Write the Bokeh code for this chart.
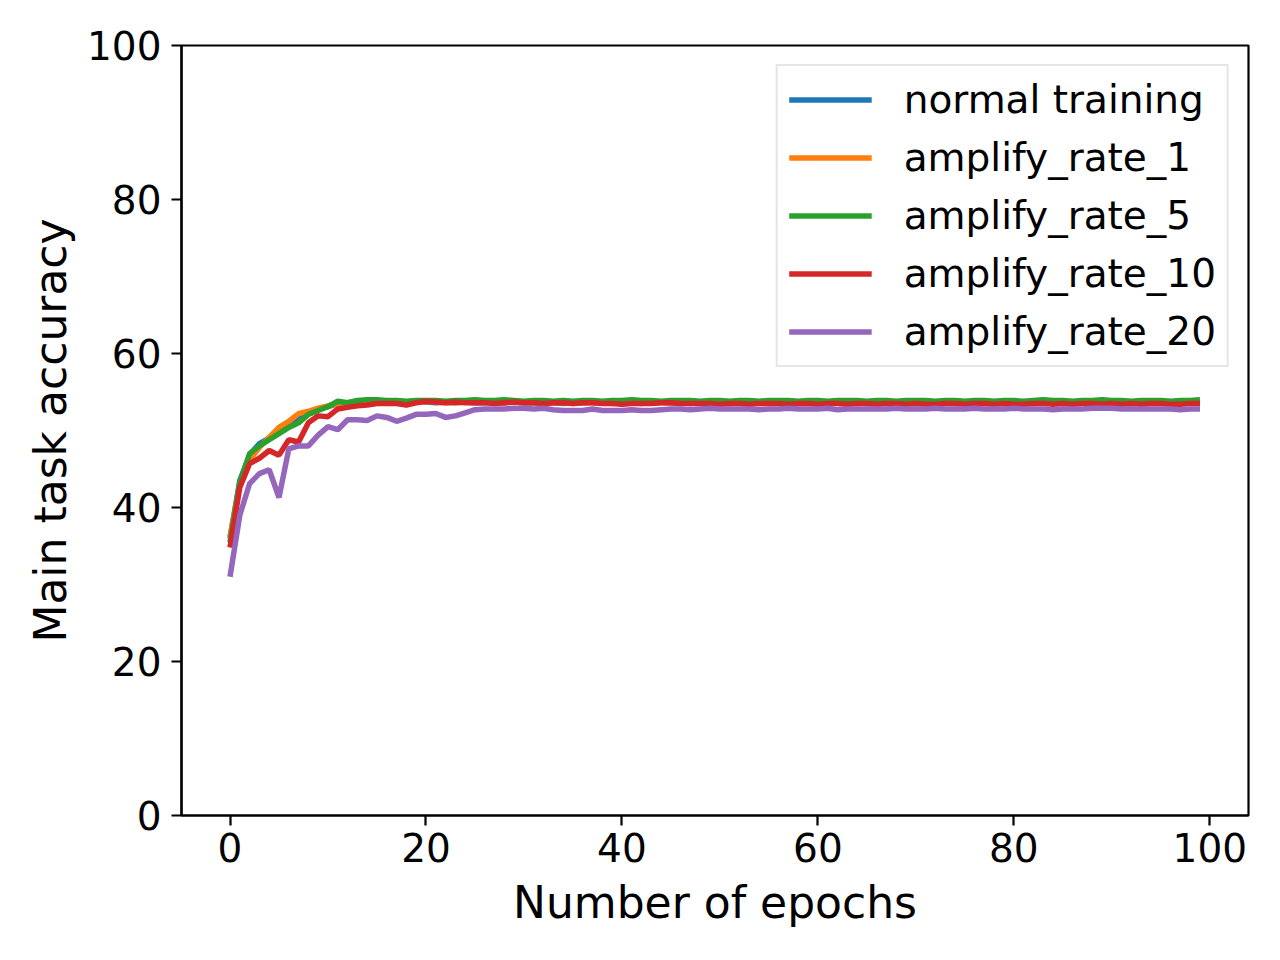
import numpy as np
from bokeh.plotting import figure
from bokeh.models import Range1d, Legend, LegendItem, FixedTicker
from bokeh.embed import file_html
from bokeh.resources import INLINE

normal_training = [36.0, 43.5, 46.8, 48.3, 49.0, 50.0, 50.8, 51.8, 52.4, 52.8,
 53.1, 53.5, 53.6, 53.7, 53.8, 53.8, 53.7, 53.6, 53.7, 53.8,
 53.7, 53.6, 53.7, 53.6, 53.7, 53.6, 53.6, 53.7, 53.6, 53.7,
 53.6, 53.6, 53.7, 53.6, 53.5, 53.6, 53.6, 53.7, 53.6, 53.6,
 53.5, 53.6, 53.6, 53.6, 53.7, 53.6, 53.6, 53.5, 53.6, 53.6,
 53.6, 53.5, 53.6, 53.6, 53.5, 53.6, 53.6, 53.6, 53.5, 53.6,
 53.6, 53.5, 53.6, 53.6, 53.6, 53.5, 53.6, 53.6, 53.5, 53.6,
 53.6, 53.6, 53.5, 53.6, 53.6, 53.5, 53.6, 53.6, 53.6, 53.5,
 53.6, 53.6, 53.5, 53.6, 53.6, 53.6, 53.5, 53.6, 53.6, 53.5,
 53.6, 53.6, 53.5, 53.6, 53.6, 53.6, 53.5, 53.6, 53.6, 53.6]

amplify_rate_1 = [36.2, 43.0, 46.2, 47.8, 49.1, 50.4, 51.2, 52.2, 52.5, 52.9,
 53.2, 53.5, 53.6, 53.7, 53.7, 53.8, 53.7, 53.7, 53.6, 53.7,
 53.8, 53.7, 53.6, 53.6, 53.7, 53.6, 53.7, 53.6, 53.6, 53.7,
 53.6, 53.6, 53.5, 53.6, 53.6, 53.5, 53.6, 53.6, 53.6, 53.5,
 53.6, 53.6, 53.5, 53.6, 53.6, 53.6, 53.5, 53.6, 53.6, 53.6,
 53.5, 53.6, 53.6, 53.5, 53.6, 53.6, 53.6, 53.5, 53.6, 53.6,
 53.5, 53.6, 53.6, 53.6, 53.5, 53.6, 53.6, 53.5, 53.6, 53.6,
 53.6, 53.5, 53.6, 53.6, 53.5, 53.6, 53.6, 53.6, 53.5, 53.6,
 53.6, 53.5, 53.6, 53.6, 53.6, 53.5, 53.6, 53.6, 53.5, 53.6,
 53.6, 53.6, 53.5, 53.6, 53.6, 53.5, 53.6, 53.6, 53.6, 53.6]

amplify_rate_5 = [35.5, 43.2, 47.0, 48.0, 48.8, 49.6, 50.4, 51.0, 52.1, 52.6,
 53.1, 53.8, 53.6, 53.9, 54.0, 54.0, 53.9, 53.9, 53.8, 53.9,
 53.9, 53.9, 53.8, 53.9, 53.9, 54.0, 53.9, 53.9, 54.0, 53.9,
 53.8, 53.9, 53.9, 53.8, 53.9, 53.8, 53.9, 53.9, 53.8, 53.9,
 53.9, 54.0, 53.9, 53.9, 53.8, 53.9, 53.9, 53.9, 53.8, 53.9,
 53.9, 53.8, 53.9, 53.9, 53.8, 53.9, 53.9, 53.9, 53.8, 53.9,
 53.9, 53.8, 53.9, 53.9, 53.9, 53.8, 53.9, 53.9, 53.8, 53.9,
 53.9, 53.9, 53.8, 53.9, 53.9, 53.8, 53.9, 53.9, 53.8, 53.9,
 53.9, 53.8, 53.9, 54.0, 53.9, 53.9, 53.8, 53.9, 53.9, 54.0,
 53.9, 53.9, 53.8, 53.9, 53.9, 53.9, 53.8, 53.9, 53.9, 54.0]

amplify_rate_10 = [34.8, 42.6, 45.7, 46.4, 47.4, 46.8, 48.8, 48.5, 51.0, 51.9,
 51.8, 52.8, 53.0, 53.2, 53.3, 53.5, 53.5, 53.5, 53.3, 53.6,
 53.8, 53.7, 53.6, 53.7, 53.6, 53.6, 53.6, 53.5, 53.6, 53.7,
 53.6, 53.6, 53.5, 53.6, 53.6, 53.5, 53.6, 53.6, 53.5, 53.5,
 53.4, 53.5, 53.5, 53.5, 53.6, 53.6, 53.5, 53.5, 53.5, 53.5,
 53.4, 53.5, 53.5, 53.4, 53.5, 53.5, 53.5, 53.4, 53.5, 53.5,
 53.4, 53.5, 53.5, 53.4, 53.5, 53.5, 53.4, 53.5, 53.5, 53.4,
 53.5, 53.4, 53.4, 53.5, 53.5, 53.4, 53.5, 53.5, 53.4, 53.5,
 53.4, 53.4, 53.5, 53.5, 53.4, 53.5, 53.4, 53.5, 53.5, 53.4,
 53.5, 53.4, 53.5, 53.4, 53.5, 53.5, 53.4, 53.4, 53.5, 53.5]

amplify_rate_20 = [31.0, 39.0, 43.1, 44.4, 44.9, 41.3, 47.6, 48.0, 48.0, 49.4,
 50.5, 50.1, 51.4, 51.4, 51.3, 51.9, 51.7, 51.2, 51.6, 52.1,
 52.1, 52.2, 51.7, 51.9, 52.3, 52.7, 52.8, 52.8, 52.8, 52.9,
 52.9, 52.8, 52.9, 52.7, 52.6, 52.6, 52.6, 52.8, 52.6, 52.6,
 52.6, 52.7, 52.6, 52.6, 52.7, 52.8, 52.8, 52.7, 52.8, 52.9,
 52.8, 52.8, 52.8, 52.8, 52.7, 52.8, 52.8, 52.9, 52.8, 52.8,
 52.8, 52.9, 52.7, 52.8, 52.8, 52.8, 52.8, 52.8, 52.9, 52.8,
 52.8, 52.8, 52.9, 52.8, 52.8, 52.8, 52.9, 52.8, 52.8, 52.8,
 52.9, 52.8, 52.8, 52.8, 52.7, 52.8, 52.8, 52.8, 52.9, 52.9,
 52.9, 52.8, 52.8, 52.8, 52.8, 52.8, 52.8, 52.7, 52.8, 52.8]

series_names = ["normal training", "amplify_rate_1", "amplify_rate_5",
                "amplify_rate_10", "amplify_rate_20"]
series_values = [normal_training, amplify_rate_1, amplify_rate_5,
                 amplify_rate_10, amplify_rate_20]
colors = ["#1f77b4", "#ff7f0e", "#2ca02c", "#d62728", "#9467bd"]
x_ticks = [0, 20, 40, 60, 80, 100]
y_ticks = [0, 20, 40, 60, 80, 100]

FONT = "DejaVu Sans"

p = figure(width=1264, height=944, output_backend="svg", toolbar_location=None,
           x_range=Range1d(-4.95, 103.95), y_range=Range1d(0, 100),
           min_border_left=181, min_border_right=16,
           min_border_top=45, min_border_bottom=129)
p.grid.visible = False
p.background_fill_color = "white"
p.border_fill_color = "white"
p.outline_line_color = "black"
p.outline_line_width = 2.2

for ax in (p.xaxis[0], p.yaxis[0]):
    ax.axis_line_width = 2.2
    ax.axis_line_color = "black"
    ax.major_tick_line_width = 2.2
    ax.major_tick_in = 0
    ax.major_tick_out = 10
    ax.minor_tick_line_color = None
    ax.major_label_text_font = FONT
    ax.major_label_text_font_size = "39px"
    ax.major_label_text_color = "black"
    ax.axis_label_text_font = FONT
    ax.axis_label_text_font_size = "44px"
    ax.axis_label_text_font_style = "normal"
    ax.axis_label_text_color = "black"

p.xaxis.major_label_standoff = 7
p.yaxis.major_label_standoff = 10
p.xaxis.axis_label_standoff = 12
p.yaxis.axis_label_standoff = 8
p.xaxis.ticker = FixedTicker(ticks=x_ticks)
p.yaxis.ticker = FixedTicker(ticks=y_ticks)
p.xaxis.axis_label = "Number of epochs"
p.yaxis.axis_label = "Main task accuracy"

items = []
for name, vals, c in zip(series_names, series_values, colors):
    x = np.arange(len(vals))
    r = p.line(x, vals, line_color=c, line_width=5.5)
    items.append(LegendItem(label=name, renderers=[r]))

legend = Legend(items=items, location="top_right")
legend.label_text_font = FONT
legend.label_text_font_size = "39px"
legend.label_text_color = "black"
legend.glyph_width = 83
legend.glyph_height = 39
legend.label_height = 39
legend.label_standoff = 32
legend.spacing = 13
legend.padding = 11
legend.margin = 19
legend.border_line_color = "#cccccc"
legend.border_line_width = 2
legend.background_fill_color = "white"
legend.background_fill_alpha = 0.8
p.add_layout(legend)

open("out.html", "w").write(file_html(p, INLINE))
